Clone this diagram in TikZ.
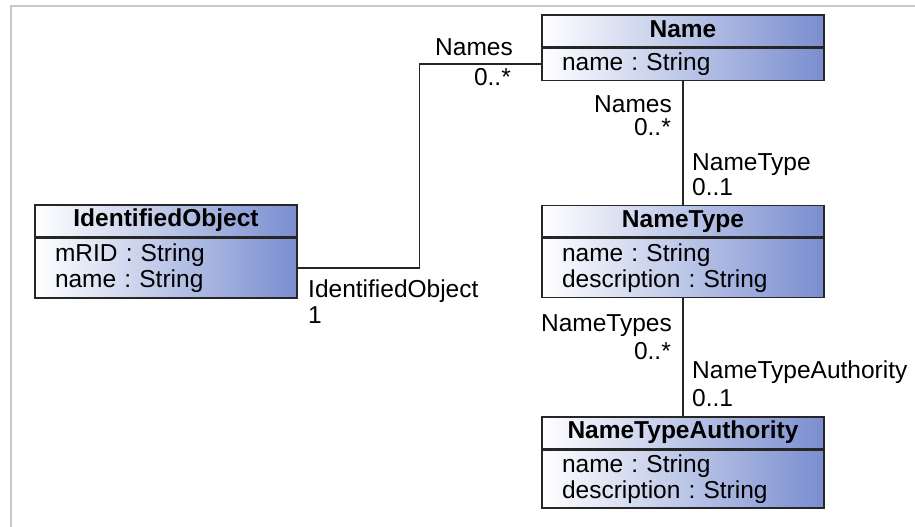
\documentclass[tikz,border=0pt]{standalone}
\usepackage{fontspec}
\setmainfont{Liberation Sans}
\usepackage{xcolor}
\usepackage{tikz}
\usetikzlibrary{positioning,calc}
\definecolor{umlblue}{RGB}{122,142,208}
\definecolor{framegray}{RGB}{200,200,200}
\frenchspacing
\newcommand{\umlfont}{\fontsize{24.5pt}{26pt}\selectfont}
\tikzset{
	classhead/.style={rectangle, draw=black!85, line width=1.5pt, left color=white, right color=umlblue, minimum width=#1, minimum height=31.5pt, inner sep=0pt, font=\umlfont\bfseries, text height=17.5pt, text depth=5pt},
	classbody/.style={rectangle, draw=black!85, line width=1.5pt, left color=white, right color=umlblue, text width=#1, align=left, inner xsep=20pt, inner ysep=3pt, font=\umlfont},
	rolename/.style={inner sep=0pt, font=\umlfont},
	assoc/.style={draw=black!85, line width=1.5pt}
}
\begin{document}
\begin{tikzpicture}[x=1pt, y=-1pt]
	\useasboundingbox (0,0) rectangle (915,527);
	\draw[framegray, line width=2pt] (11,527) -- (11,6) -- (915,6);

		\node[classhead=262pt] at (166,220.5) (idhead) {IdentifiedObject};
		\node[classbody=222pt, minimum height=60pt, below=0pt of idhead] (idbody) {mRID : String\\name : String};

		\node[classhead=282pt] at (683,31) (namehead) {Name};
		\node[classbody=242pt, minimum height=32pt, below=0pt of namehead] (namebody) {name : String};

		\node[classhead=282pt] at (683,221) (nthead) {NameType};
		\node[classbody=242pt, minimum height=59pt, below=0pt of nthead] (ntbody) {name : String\\description : String};

		\node[classhead=282pt] at (683,432.5) (ntahead) {NameTypeAuthority};
		\node[classbody=242pt, minimum height=58pt, below=0pt of ntahead] (ntabody) {name : String\\description : String};

		\draw[assoc] (namebody.west) -| ($(namebody.west)!0.5!(idbody.east)$) |- (idbody.east);
		\draw[assoc] (namebody.south) -- (nthead.north);
		\draw[assoc] (ntbody.south) -- (ntahead.north);

		\node[rolename, anchor=base east] at (513,56) (namesend) {Names};
		\node[rolename, anchor=base east] at (511,85) (namesmult) {0..*};
		\node[rolename, anchor=base west] at (308,297) (idend) {IdentifiedObject};
		\node[rolename, anchor=base west] at (308,323) (idmult) {1};

		\node[rolename, anchor=base east] at (672,112) (typenamesend) {Names};
		\node[rolename, anchor=base east] at (671,135) (typenamesmult) {0..*};
		\node[rolename, anchor=base west] at (692,170) (typeend) {NameType};
		\node[rolename, anchor=base west] at (692,195) (typemult) {0..1};

		\node[rolename, anchor=base east] at (672,331) (typesend) {NameTypes};
		\node[rolename, anchor=base east] at (671,359) (typesmult) {0..*};
		\node[rolename, anchor=base west] at (692,378) (authend) {NameTypeAuthority};
		\node[rolename, anchor=base west] at (692,406) (authmult) {0..1};

\end{tikzpicture}
\end{document}
